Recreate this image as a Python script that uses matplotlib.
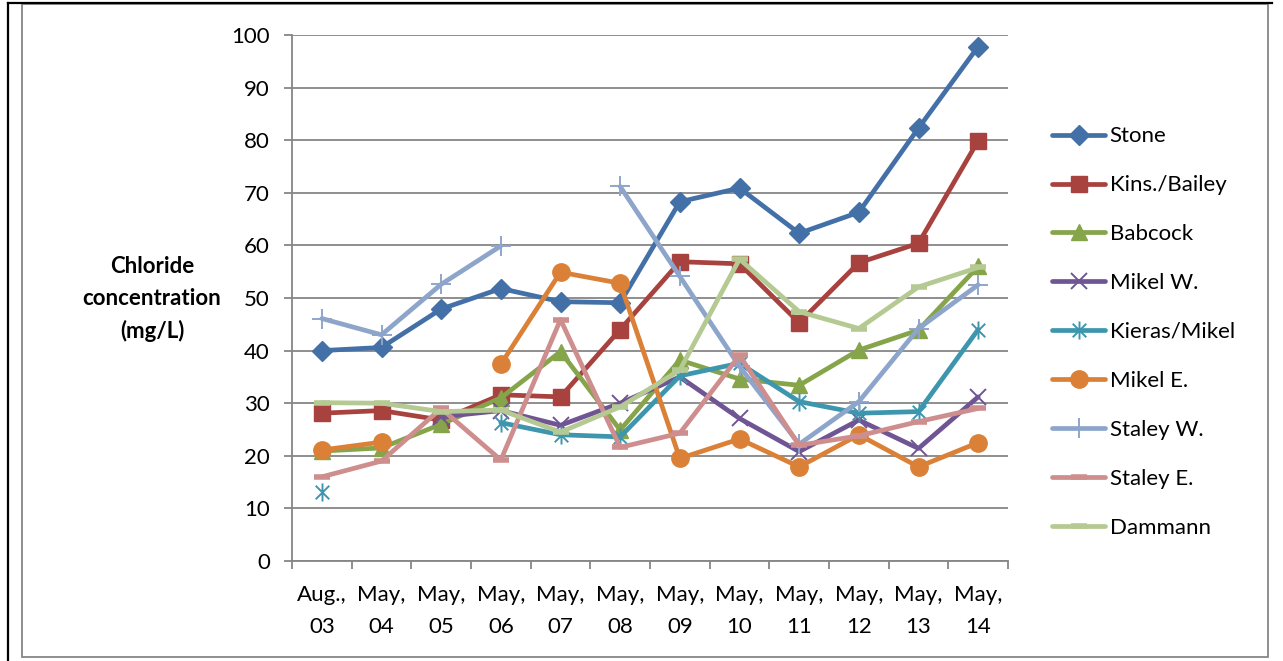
import numpy as np
import matplotlib.pyplot as plt
from matplotlib.path import Path
from matplotlib.lines import Line2D

nan = np.nan

# Sampling dates (x categories)
dates = ["Aug.,\n03", "May,\n04", "May,\n05", "May,\n06", "May,\n07", "May,\n08",
         "May,\n09", "May,\n10", "May,\n11", "May,\n12", "May,\n13", "May,\n14"]

# Chloride readings per site (mg/L); nan = not sampled
stone = [40.0, 40.6, 47.9, 51.8, 49.3, 49.1, 68.3, 70.9, 62.3, 66.3, 82.3, 97.8]
kins_bailey = [28.1, 28.6, 26.8, 31.6, 31.2, 44.0, 56.9, 56.5, 45.3, 56.7, 60.4, 79.9]
babcock = [20.9, 21.5, 26.0, 31.0, 39.8, 24.9, 38.2, 34.6, 33.4, 40.1, 43.9, 56.0]
mikel_w = [nan, nan, 27.4, 28.6, 25.8, 30.0, 35.0, 27.1, 20.8, 26.8, 21.4, 31.2]
kieras_mikel = [13.2, nan, nan, 26.3, 24.0, 23.6, 35.2, 37.6, 30.3, 28.1, 28.4, 44.0]
mikel_e = [21.1, 22.6, nan, 37.4, 54.9, 52.8, 19.5, 23.2, 17.9, 24.0, 17.9, 22.5]
staley_w = [46.1, 43.0, 52.6, 59.9, nan, 71.2, 54.1, 37.0, 22.2, 30.3, 44.2, 52.5]
staley_e = [16.0, 19.0, 29.0, 19.2, 45.9, 21.6, 24.3, 39.1, 22.0, 23.8, 26.5, 29.0]
dammann = [30.1, 30.0, 28.4, 28.7, 24.5, 29.3, 36.3, 57.4, 47.4, 44.2, 52.1, 55.8]

# Excel-style asterisk: vertical bar plus an X
asterisk = Path([(0, -1), (0, 1), (-0.75, -0.75), (0.75, 0.75), (-0.75, 0.75), (0.75, -0.75)],
                [Path.MOVETO, Path.LINETO, Path.MOVETO, Path.LINETO, Path.MOVETO, Path.LINETO])

series = [
    ("Stone", stone, "#4470A8", dict(marker="D", ms=10.5)),
    ("Kins./Bailey", kins_bailey, "#A8423F", dict(marker="s", ms=12)),
    ("Babcock", babcock, "#86A44A", dict(marker="^", ms=12)),
    ("Mikel W.", mikel_w, "#6F5593", dict(marker="x", ms=12, mew=1.4)),
    ("Kieras/Mikel", kieras_mikel, "#3D96AE", dict(marker=asterisk, ms=13, mew=1.4)),
    ("Mikel E.", mikel_e, "#DA8137", dict(marker="o", ms=12.5)),
    ("Staley W.", staley_w, "#8EA5CB", dict(marker="+", ms=15, mew=1.4)),
    ("Staley E.", staley_e, "#CE8E8D", dict(marker="_", ms=11, mew=4)),
    ("Dammann", dammann, "#B5CA92", dict(marker="_", ms=11, mew=4)),
]

plt.rcParams["font.family"] = ["Lato", "DejaVu Sans"]
grid_col = "#868686"
fs = 16

fig = plt.figure(figsize=(12.83, 6.61), dpi=100)
ax = fig.add_axes([292 / 1283, 1 - 561 / 661, 716 / 1283, 526 / 661])

x = np.arange(len(dates))
for name, vals, col, mk in series:
    ax.plot(x, vals, color=col, lw=3.4, label=name, mfc=col, mec=col,
            solid_capstyle="round", solid_joinstyle="round", **mk)

ax.set_xlim(-0.5, len(dates) - 0.5)
ax.set_ylim(0, 100)
ax.set_yticks(np.arange(0, 101, 10))
ax.yaxis.grid(True, color=grid_col, lw=1.3)
ax.set_axisbelow(True)

# category boundaries carry the tick marks, centres carry the labels
ax.set_xticks(np.arange(-0.5, len(dates), 1))
ax.set_xticklabels([])
ax.set_xticks(x, minor=True)
ax.set_xticklabels(dates, minor=True, fontsize=fs, linespacing=1.75)
ax.tick_params(axis="x", which="major", length=6, color=grid_col, width=1.3)
ax.tick_params(axis="x", which="minor", length=0, pad=17)
ax.tick_params(axis="y", length=6, color=grid_col, width=1.3, labelsize=fs, pad=10)

for side in ("top", "right"):
    ax.spines[side].set_visible(False)
for side in ("left", "bottom"):
    ax.spines[side].set_color(grid_col)
    ax.spines[side].set_linewidth(1.3)

fig.text(152 / 1283, 1 - 299 / 661, "Chloride\nconcentration\n(mg/L)", ha="center",
         va="center", fontsize=fs, fontweight="bold", linespacing=1.6)

ax.legend(loc="center left", bbox_to_anchor=(1032 / 1283, 1 - 332 / 661),
          bbox_transform=fig.transFigure, frameon=False, fontsize=fs,
          handlelength=2.4, handletextpad=0.2, labelspacing=1.3)

# chart border and outer frame
fig.add_artist(plt.Rectangle((22 / 1283, 4 / 661), 1246 / 1283, 653 / 661,
                             transform=fig.transFigure, fill=False, ec=grid_col, lw=1.3))
fig.add_artist(Line2D([8 / 1283, 8 / 1283], [0, 1 - 3 / 661], transform=fig.transFigure,
                      color="black", lw=1.6))
fig.add_artist(Line2D([8 / 1283, 1272 / 1283], [1 - 3 / 661, 1 - 3 / 661],
                      transform=fig.transFigure, color="black", lw=1.6))

fig.savefig("out.png", dpi=100)
